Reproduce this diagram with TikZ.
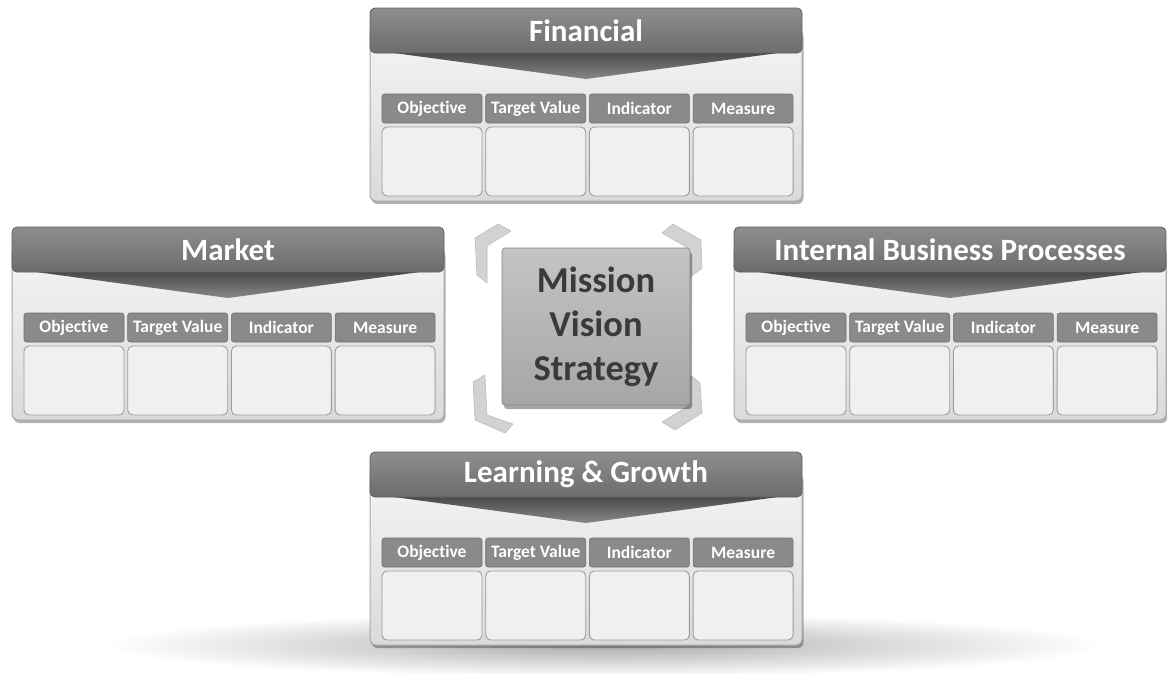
\documentclass[tikz,border=0pt]{standalone}
\usepackage{fontspec}
\setmainfont{Carlito}[Ligatures=NoCommon]
\usetikzlibrary{shadows}
\definecolor{hdrtop}{HTML}{8E8E8E}
\definecolor{hdrbot}{HTML}{6C6C6C}
\definecolor{hdrline}{HTML}{5E5E5E}
\definecolor{paneltop}{HTML}{F4F4F4}
\definecolor{panelbot}{HTML}{DADADA}
\definecolor{panelline}{HTML}{A8A8A8}
\definecolor{wedgetop}{HTML}{4A4A4A}
\definecolor{wedgebot}{HTML}{888888}
\definecolor{colfill}{HTML}{8A8A8A}
\definecolor{colline}{HTML}{6E6E6E}
\definecolor{cellfill}{HTML}{F0F0F0}
\definecolor{cellline}{HTML}{9C9C9C}
\definecolor{boxtop}{HTML}{C4C4C4}
\definecolor{boxbot}{HTML}{A6A6A6}
\definecolor{boxtext}{HTML}{3A3A3A}
\definecolor{brfill}{HTML}{D2D2D2}
\definecolor{brline}{HTML}{BDBDBD}
\tikzset{
  softshadow/.style={drop shadow={shadow xshift=1.5pt,shadow yshift=-3pt,opacity=.30,fill=black}},
  panelbody/.style={rectangle,rounded corners=6pt,draw=panelline,line width=1pt,
    top color=paneltop,bottom color=panelbot,minimum width=432pt,minimum height=173pt,
    inner sep=0pt,outer sep=0pt,softshadow},
  headbar/.style={rectangle,rounded corners=5pt,draw=hdrline,line width=.8pt,
    top color=hdrtop,bottom color=hdrbot,minimum width=432pt,minimum height=45pt,
    inner sep=0pt,outer sep=0pt,text=white,font=\fontsize{31}{36}\selectfont\bfseries},
  wedgeshape/.style={top color=wedgetop,bottom color=wedgebot},
  colhead/.style={rectangle,rounded corners=2.5pt,draw=colline,line width=.6pt,fill=colfill,
    minimum width=100pt,minimum height=29pt,inner sep=0pt,outer sep=0pt,text=white,
    font=\fontsize{17.5}{20}\selectfont\bfseries},
  cellbox/.style={rectangle,rounded corners=5pt,draw=cellline,line width=.9pt,fill=cellfill,
    minimum width=100pt,minimum height=69pt,inner sep=0pt,outer sep=0pt},
  centerbox/.style={rectangle,rounded corners=3pt,draw=boxbot!80!black,line width=.6pt,
    top color=boxtop,bottom color=boxbot,minimum width=188pt,minimum height=157pt,
    inner sep=0pt,outer sep=0pt,drop shadow={shadow xshift=2pt,shadow yshift=-4pt,opacity=.35,fill=black}},
  centertext/.style={text=boxtext,align=center,font=\fontsize{36.5}{44}\selectfont\bfseries},
  bracket/.style={fill=brfill,draw=brline,line width=.6pt,line join=round},
}
\newcommand\bscpanel[4]{%
  \begin{scope}[shift={(#2,#3)}]
    \node[panelbody,anchor=north west] (#1-body) at (0,20) {};
    \path[wedgeshape] (24,45) -- (408,45) -- (216,71) -- cycle;
    \node[headbar,anchor=north west] (#1-head) at (0,0) {#4};
    \foreach \i/\t in {0/Objective,1/Target Value,2/Indicator,3/Measure}{%
      \node[colhead,anchor=north west] (#1-h\i) at ({12+103.7*\i},86) {\t};
      \node[cellbox,anchor=north west] (#1-c\i) at ({12+103.7*\i},119) {};
    }
  \end{scope}}
\begin{document}
\begin{tikzpicture}[x=1pt,y=-1pt]
\useasboundingbox (0,0) rectangle (1167,673);
% floor shadow
\path[inner color=black!33,outer color=white] (605,645) ellipse [x radius=500pt,y radius=32pt];
\bscpanel{fin}{370}{8}{Financial}
\bscpanel{mkt}{12}{227}{Market}
\bscpanel{ibp}{734}{227}{Internal Business Processes}
\bscpanel{lg}{370}{452}{Learning \& Growth}
% center
\path[bracket] (498,224) -- (511,231) -- (487,246) -- (487,283) -- (477,275) -- (475,238) -- cycle;
\path[bracket] (673,224) -- (701,240) -- (702,268) -- (689,278) -- (688,248) -- (662,233) -- cycle;
\path[bracket] (485,375) -- (487,415) -- (513,424) -- (505,433) -- (475,420) -- (473,382) -- cycle;
\path[bracket] (690,375) -- (700,383) -- (702,413) -- (675,430) -- (662,422) -- (690,405) -- cycle;
\node[centerbox] (mvs) at (596,326.5) {};
\node[centertext] (mvs-text) at (596,327) {Mission\\Vision\\Strategy};
\end{tikzpicture}
\end{document}
